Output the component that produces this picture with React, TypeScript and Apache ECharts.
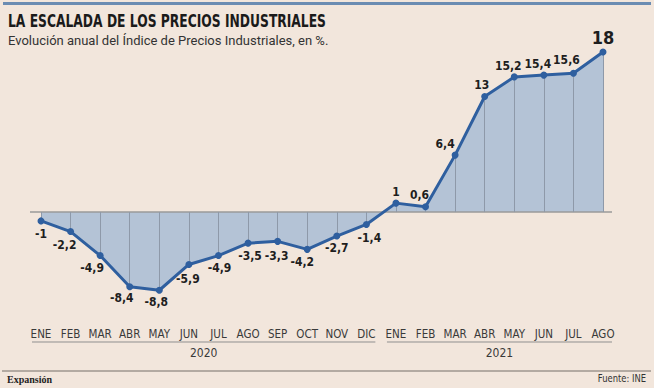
import React, { useEffect, useRef } from "react";
import * as echarts from "echarts";

const months = ["ENE","FEB","MAR","ABR","MAY","JUN","JUL","AGO","SEP","OCT","NOV","DIC","ENE","FEB","MAR","ABR","MAY","JUN","JUL","AGO"];
const years = ["2020", "2021"];
const yearStart = [0, 12];
const yearEnd = [11, 19];
const values = [-1,-2.2,-4.9,-8.4,-8.8,-5.9,-4.9,-3.5,-3.3,-4.2,-2.7,-1.4,1,0.6,6.4,13,15.2,15.4,15.6,18];
const labelTexts = ["-1","-2,2","-4,9","-8,4","-8,8","-5,9","-4,9","-3,5","-3,3","-4,2","-2,7","-1,4","1","0,6","6,4","13","15,2","15,4","15,6","18"];
const labelOffsets = [[0,13],[-6,13],[-8,12],[-8,11],[-3,12],[-1,15],[1,12],[2,13],[-1,15],[-5,13],[0,12],[3,14],[0,-11],[-6,-12],[-10,-11],[-3,-11],[-6,-11],[-6,-11],[-7,-13],[0,-15]];

const BG = "#f2e6dc";
const LINE = "#2f5f9f";
const AREA = "#b4c3d6";
const COND = "'DejaVu Sans Condensed', sans-serif";

export default function App() {
  const ref = useRef<HTMLDivElement>(null);
  useEffect(() => {
    const chart = echarts.init(ref.current!, null, { renderer: "svg" });
    const cats = months.map((m, i) => m + "-" + i);
    chart.setOption({
      animation: false,
      backgroundColor: BG,
      grid: { left: 41, right: 51, top: 52, bottom: 69.3 },
      xAxis: {
        type: "category",
        data: cats,
        boundaryGap: false,
        axisLine: { show: false },
        axisTick: { show: false },
        splitLine: { show: false },
        axisLabel: {
          formatter: (v: string) => v.split("-")[0],
          interval: 0,
          margin: 9,
          fontFamily: COND,
          fontSize: 11.5,
          color: "#3a3a3a",
        },
      },
      yAxis: { type: "value", min: -12, max: 18, show: false, splitLine: { show: false } },
      series: [
        {
          type: "line",
          data: values,
          symbol: "none",
          lineStyle: { width: 0 },
          areaStyle: { color: AREA, opacity: 1 },
          silent: true,
          markLine: {
            silent: true,
            symbol: ["none", "none"],
            label: { show: false },
            lineStyle: { color: "#8e99a9", width: 1, type: "solid" },
            data: values.map((v, i) => [{ coord: [i, 0] }, { coord: [i, v] }]),
          },
        },
        {
          type: "line",
          data: values.map((v, i) => ({
            value: v,
            label: {
              offset: labelOffsets[i],
              fontSize: i === values.length - 1 ? 18 : 12,
            },
          })),
          symbol: "circle",
          symbolSize: 7,
          itemStyle: { color: LINE },
          lineStyle: { color: LINE, width: 3 },
          z: 5,
          label: {
            show: true,
            position: "inside",
            formatter: (p: any) => labelTexts[p.dataIndex],
            fontFamily: COND,
            fontWeight: "bold",
            color: "#1e1e1e",
          },
        },
      ],
    });

    const y0 = chart.convertToPixel({ yAxisIndex: 0 }, 0) as number;
    const px = (i: number) => chart.convertToPixel({ xAxisIndex: 0 }, i) as number;
    const graphics: any[] = [
      { type: "rect", shape: { x: 3, y: 2, width: 648, height: 3 }, style: { fill: "#6b8cb2" } },
      { type: "text", x: 8, y: 21, scaleX: 0.74, style: { text: "LA ESCALADA DE LOS PRECIOS INDUSTRIALES", font: `bold 18.5px ${COND}`, fill: "#1a1a1a", verticalAlign: "middle" } },
      { type: "text", x: 8, y: 40, style: { text: "Evolución anual del Índice de Precios Industriales, en %.", font: `13px Roboto, sans-serif`, fill: "#333", verticalAlign: "middle" } },
      { type: "line", z: 3, shape: { x1: px(0) - 11, y1: y0, x2: px(values.length - 1) + 9, y2: y0 }, style: { stroke: "#9a9a9a", lineWidth: 1.5 } },
      { type: "line", shape: { x1: 2, y1: 371, x2: 651, y2: 371 }, style: { stroke: "#b3aaa2", lineWidth: 2 } },
      { type: "text", x: 7, y: 379, style: { text: "Expansión", font: `bold 10px 'Liberation Serif', serif`, fill: "#222", verticalAlign: "middle" } },
      { type: "text", x: 646, y: 378, scaleX: 0.85, style: { text: "Fuente: INE", font: `11px ${COND}`, fill: "#333", align: "right", verticalAlign: "middle" } },
    ];
    years.forEach((y, k) => {
      const a = px(yearStart[k]);
      const b = px(yearEnd[k]);
      graphics.push({ type: "line", shape: { x1: a - 9, y1: 342, x2: b + 9, y2: 342 }, style: { stroke: "#8f8f8f", lineWidth: 1 } });
      graphics.push({ type: "text", x: (a + b) / 2, y: 353, style: { text: y, font: `12px ${COND}`, fill: "#3a3a3a", align: "center", verticalAlign: "middle" } });
    });
    chart.setOption({ graphic: graphics });
    return () => chart.dispose();
  }, []);
  return <div ref={ref} style={{ position: "absolute", left: 0, top: 0, width: 654, height: 388 }} />;
}
